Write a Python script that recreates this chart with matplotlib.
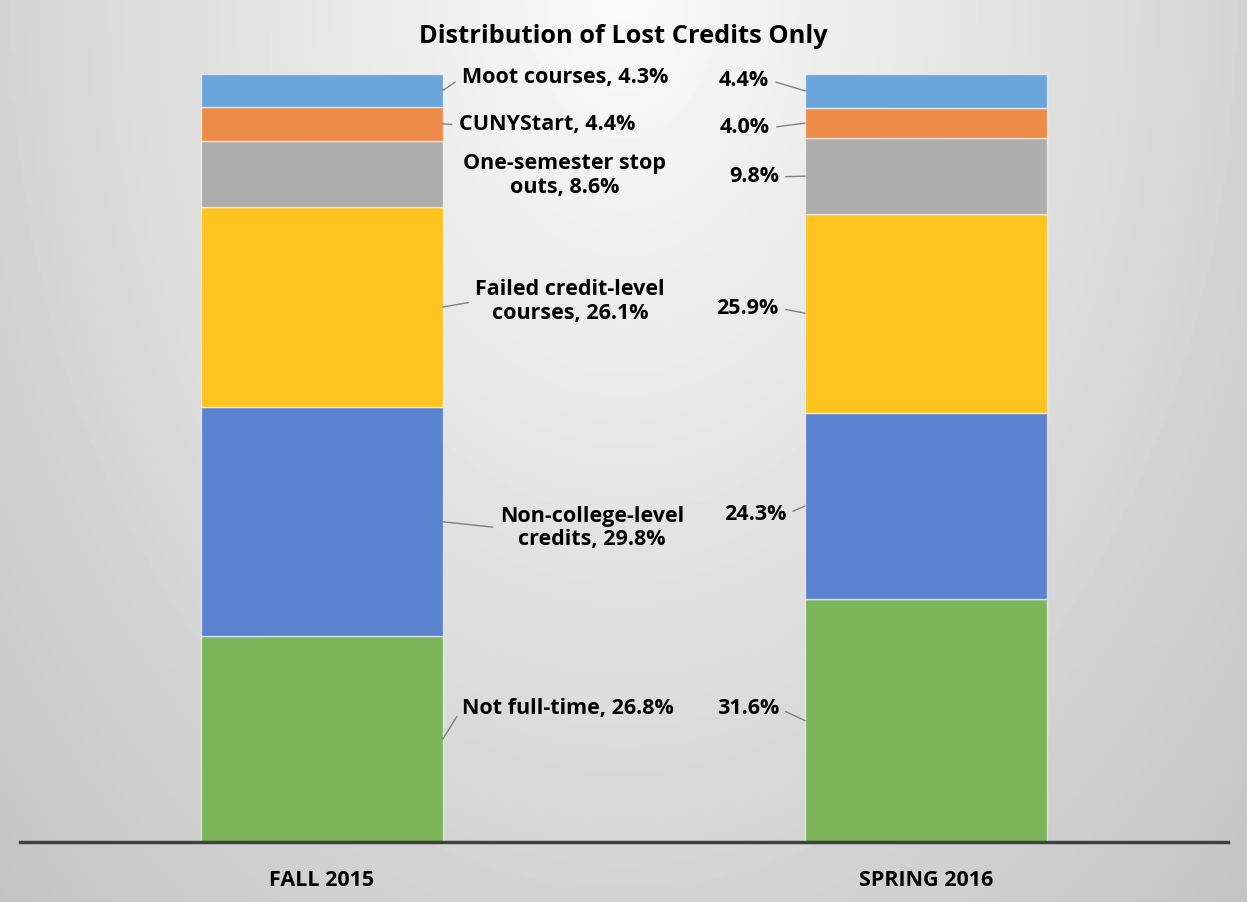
import numpy as np
import matplotlib.pyplot as plt

# data
terms = ["FALL 2015", "SPRING 2016"]
categories = ["Not full-time", "Non-college-level credits", "Failed credit-level courses",
              "One-semester stop outs", "CUNYStart", "Moot courses"]
fall = [26.8, 29.8, 26.1, 8.6, 4.4, 4.3]
spring = [31.6, 24.3, 25.9, 9.8, 4.0, 4.4]
fall_labels = ["Not full-time, 26.8%", "Non-college-level\ncredits, 29.8%",
               "Failed credit-level\ncourses, 26.1%", "One-semester stop\nouts, 8.6%",
               "CUNYStart, 4.4%", "Moot courses, 4.3%"]
colors = ["#7DB55A", "#5B83CF", "#FFC41F", "#ADADAD", "#EF8B49", "#6AA6DC"]

plt.rcParams['font.family'] = ['Open Sans', 'DejaVu Sans']

fig = plt.figure(figsize=(12.47, 9.02), dpi=100)

# radial gray background
bg = fig.add_axes([0, 0, 1, 1], zorder=-10)
xx, yy = np.meshgrid(np.linspace(-1, 1, 400), np.linspace(0, 1, 300))
r = np.sqrt(xx ** 2 + yy ** 2)
bg.imshow(0.98 - 0.15 * r, cmap='gray', vmin=0, vmax=1, aspect='auto',
          extent=[0, 1, 0, 1], origin='upper')
bg.axis('off')

ax = fig.add_axes([0.016, 0.0665, 0.9687, 0.8515])
ax.patch.set_alpha(0)
x = np.arange(len(terms))
w = 0.4
bottoms = np.zeros(2)
for i, cat in enumerate(categories):
    vals = np.array([fall[i], spring[i]])
    ax.bar(x, vals, w, bottom=bottoms, color=colors[i],
           edgecolor=(1, 1, 1, 0.6), linewidth=1)
    bottoms += vals

ax.set_xlim(-0.5, 1.5)
ax.set_ylim(0, 100)
for s in ['top', 'left', 'right']:
    ax.spines[s].set_visible(False)
ax.spines['bottom'].set_color('#404040')
ax.spines['bottom'].set_linewidth(2.5)
ax.set_yticks([])
ax.set_xticks(x)
ax.set_xticklabels(terms, fontsize=15.5, fontweight='bold')
ax.tick_params(axis='x', length=0, pad=20)

# label positions (data coords)
fall_pos = [(0.407, 17.4), (0.447, 40.9), (0.411, 70.4), (0.402, 86.8), (0.3725, 93.4), (0.402, 99.5)]
spring_pos = [(0.705, 17.4), (0.717, 42.7), (0.705, 69.5), (0.715, 86.6), (0.700, 93.0), (0.699, 99.2)]

line_kw = dict(arrowstyle='-', color='#7f7f7f', lw=1, shrinkA=3, shrinkB=0)
cum_f = np.cumsum([0] + fall)
cum_s = np.cumsum([0] + spring)
for i in range(len(categories)):
    mid = cum_f[i] + fall[i] / 2
    # the stop-out label sits right next to its bar, no leader line
    props = None if i == 3 else dict(relpos=(0, 0.5), **line_kw)
    ax.annotate(fall_labels[i], xy=(x[0] + w / 2, mid), xytext=fall_pos[i],
                ha='center', va='center', fontsize=15.5, fontweight='bold',
                linespacing=1.15, arrowprops=props)
    mid = cum_s[i] + spring[i] / 2
    ax.annotate(f"{spring[i]:.1f}%", xy=(x[1] - w / 2, mid), xytext=spring_pos[i],
                ha='center', va='center', fontsize=15.5, fontweight='bold',
                arrowprops=dict(relpos=(1, 0.5), **line_kw))

fig.text(0.5, 0.96, "Distribution of Lost Credits Only", ha='center', va='center',
         fontsize=18.3, fontweight='bold')

fig.savefig("out.png", dpi=100)
